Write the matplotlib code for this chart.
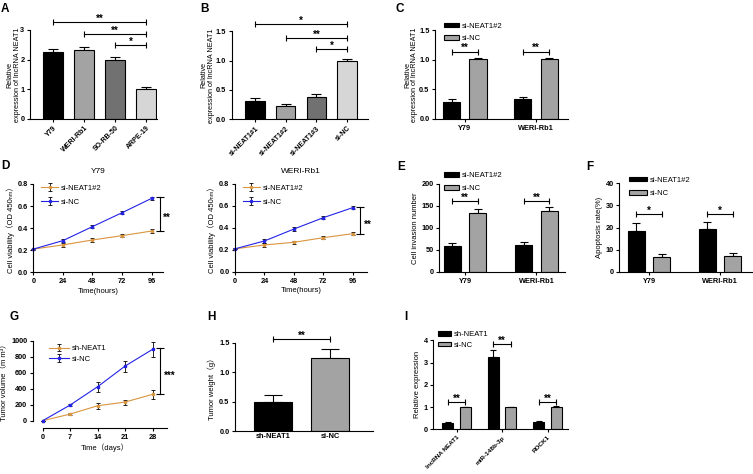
import matplotlib
matplotlib.use("Agg")
import matplotlib.pyplot as plt
import numpy as np

plt.rcParams['font.family'] = ['Liberation Sans', 'DejaVu Sans', 'Noto Sans CJK SC']
plt.rcParams['font.weight'] = 'bold'
plt.rcParams['axes.linewidth'] = 0.8

W, H = 753, 474

# A: NEAT1 in cell lines
A_labels = ["Y79", "WERI-Rb1", "SO-RB-50", "ARPE-19"]
A_vals = [2.25, 2.32, 1.98, 1.01]
A_err = [0.12, 0.12, 0.10, 0.06]

# B: knockdown efficiency
B_labels = ["si-NEAT1#1", "si-NEAT1#2", "si-NEAT1#3", "si-NC"]
B_vals = [0.32, 0.22, 0.38, 1.00]
B_err = [0.04, 0.035, 0.045, 0.02]

# C: NEAT1 after knockdown per cell line
cell_lines = ["Y79", "WERI-Rb1"]
C_si = [0.29, 0.33]
C_si_err = [0.04, 0.05]
C_nc = [1.02, 1.01]
C_nc_err = [0.02, 0.03]

# D: CCK-8 viability
hours = [0, 24, 48, 72, 96]
D_y79_si = [0.21, 0.248, 0.293, 0.332, 0.374]
D_y79_nc = [0.21, 0.287, 0.414, 0.540, 0.670]
D_weri_si = [0.21, 0.245, 0.269, 0.311, 0.347]
D_weri_nc = [0.21, 0.281, 0.389, 0.492, 0.583]
D_err = [0.005, 0.015, 0.015, 0.015, 0.015]

# E: invasion
E_si = [59, 62]
E_si_err = [6, 7]
E_nc = [134, 139]
E_nc_err = [9, 9]

# F: apoptosis
F_si = [18.5, 19.2]
F_si_err = [3.5, 3.5]
F_nc = [6.6, 7.1]
F_nc_err = [1.3, 1.3]

# G: tumor volume
days = [0, 7, 14, 21, 28]
G_sh = [0, 83, 187, 233, 329]
G_sh_err = [0, 10, 37, 31, 56]
G_nc = [0, 196, 425, 683, 892]
G_nc_err = [0, 10, 60, 69, 98]

# H: tumor weight
H_labels = ["sh-NEAT1", "si-NC"]
H_vals = [0.50, 1.24]
H_err = [0.12, 0.15]

# I: expression in tumors
I_labels = ["lncRNA NEAT1", "miR-148b-3p", "ROCK1"]
I_sh = [0.27, 3.24, 0.34]
I_sh_err = [0.04, 0.33, 0.05]
I_nc = [0.99, 0.99, 1.02]
I_nc_err = [0.03, 0.03, 0.04]

ORANGE = "#d9953f"
BLUE = "#2323e6"
GRAY = "#a3a3a3"

fig = plt.figure(figsize=(W / 100, H / 100), dpi=100)


def px_axes(left, right, top, bottom):
    return fig.add_axes([left / W, 1 - bottom / H, (right - left) / W, (bottom - top) / H])


def prism(ax):
    for s in ("top", "right"):
        ax.spines[s].set_visible(False)
    ax.tick_params(direction="out", length=2.5, width=0.8, labelsize=5.3, pad=1.5)


def bars(ax, x, vals, errs, width, colors, cap):
    ax.bar(x, vals, width, color=colors, edgecolor="black", linewidth=0.8, zorder=2)
    ax.errorbar(x, vals, yerr=[np.zeros(len(vals)), errs], fmt="none", ecolor="black",
                elinewidth=0.8, capsize=cap, capthick=0.8, zorder=1)


def pair_bars(ax, x, off, w, a, a_err, b, b_err, labels, cap):
    ax.bar(x - off, a, w, color="black", edgecolor="black", lw=0.8, label=labels[0], zorder=2)
    ax.bar(x + off, b, w, color=GRAY, edgecolor="black", lw=0.8, label=labels[1], zorder=2)
    zero = np.zeros(len(x))
    ax.errorbar(x - off, a, yerr=[zero, a_err], fmt="none", ecolor="black", elinewidth=0.8,
                capsize=cap, capthick=0.8, zorder=1)
    ax.errorbar(x + off, b, yerr=[zero, b_err], fmt="none", ecolor="black", elinewidth=0.8,
                capsize=cap, capthick=0.8, zorder=1)


def sig_h(ax, x1, x2, y, text):
    ax.plot([x1, x2], [y, y], color="black", lw=0.8, marker="|", ms=5, mew=0.8, clip_on=False)
    ax.annotate(text, ((x1 + x2) / 2, y), xytext=(0, 0.2), textcoords="offset points",
                ha="center", va="baseline", fontsize=7, annotation_clip=False)


def sig_v(ax, x, y1, y2, text):
    ax.plot([x, x], [y1, y2], color="black", lw=0.8, marker="_", ms=6, mew=0.8, clip_on=False)
    ax.annotate(text, (x, (y1 + y2) / 2), xytext=(2.5, -3), textcoords="offset points",
                ha="left", va="center", fontsize=7, annotation_clip=False)


def legend_at(ax, x_px, y_px, spacing=0.5, hl=2.0):
    ax.legend(loc="upper left", bbox_to_anchor=(x_px / W, 1 - y_px / H),
              bbox_transform=fig.transFigure, frameon=False, borderpad=0, borderaxespad=0,
              prop={"size": 5.5, "weight": "normal"}, labelspacing=spacing,
              handlelength=hl, handleheight=0.6, handletextpad=0.4)


def letter(x_px, y_px, s):
    fig.text(x_px / W, 1 - y_px / H, s, fontsize=8.5, ha="left", va="top")


REL = "Relative\nexpression of lncRNA NEAT1"

# ---- A
ax = px_axes(30, 157, 30, 119)
prism(ax)
x = np.arange(len(A_labels))
bars(ax, x, A_vals, A_err, 0.65, ["black", "#a3a3a3", "#717171", "#d6d6d6"], 3.5)
ax.set_xlim(-0.75, 3.35); ax.set_ylim(0, 3); ax.set_yticks([0, 1, 2, 3])
ax.set_xticks(x)
ax.set_xticklabels(A_labels, rotation=45, ha="right", rotation_mode="anchor", fontsize=5)
sig_h(ax, 0, 3, 3.28, "**"); sig_h(ax, 1, 3, 2.86, "**"); sig_h(ax, 2, 3, 2.49, "*")
ax.set_ylabel(REL, fontsize=5.2, labelpad=-0.5, linespacing=1.1)

# ---- B
ax = px_axes(231.7, 368, 31.3, 119.3)
prism(ax)
x = np.arange(len(B_labels))
bars(ax, x, B_vals, B_err, 0.63, ["black", "#a3a3a3", "#717171", "#d6d6d6"], 3.5)
ax.set_xlim(-0.76, 3.68); ax.set_ylim(0, 1.5); ax.set_yticks([0, 0.5, 1.0, 1.5])
ax.set_yticklabels(["0.0", "0.5", "1.0", "1.5"])
ax.set_xticks(x)
ax.set_xticklabels(B_labels, rotation=45, ha="right", rotation_mode="anchor", fontsize=5)
sig_h(ax, 0, 3, 1.62, "*"); sig_h(ax, 1, 3, 1.38, "**"); sig_h(ax, 2, 3, 1.19, "*")
ax.set_ylabel(REL, fontsize=5.2, labelpad=0.5, linespacing=1.1)

# ---- C
ax = px_axes(435, 568, 30.3, 119)
prism(ax)
x = np.arange(len(cell_lines))
pair_bars(ax, x, 0.185, 0.24, C_si, C_si_err, C_nc, C_nc_err, ["si-NEAT1#2", "si-NC"], 3.2)
ax.set_xlim(-0.42, 1.45); ax.set_ylim(0, 1.5); ax.set_yticks([0, 0.5, 1.0, 1.5])
ax.set_yticklabels(["0.0", "0.5", "1.0", "1.5"])
ax.set_xticks(x); ax.set_xticklabels(cell_lines)
for i in x:
    sig_h(ax, i - 0.185, i + 0.185, 1.14, "**")
ax.set_ylabel(REL, fontsize=5.2, labelpad=0.5, linespacing=1.1)
legend_at(ax, 444, 22.5, spacing=0.75, hl=1.9)

# ---- D (two line panels)
for (l, r, top, bot, xmax, title, si, nc, bx, b1, b2) in [
        (33.3, 163, 184, 272.3, 105.2, "Y79", D_y79_si, D_y79_nc, 102.7, 0.374, 0.685),
        (235, 366.7, 183.7, 272, 107.4, "WERI-Rb1", D_weri_si, D_weri_nc, 102.0, 0.347, 0.586)]:
    ax = px_axes(l, r, top, bot)
    prism(ax)
    ax.errorbar(hours, si, yerr=D_err, color=ORANGE, lw=0.8, marker="o", ms=1.6, ecolor="black",
                elinewidth=0.6, capsize=1.2, capthick=0.6, label="si-NEAT1#2", clip_on=False)
    ax.errorbar(hours, nc, yerr=D_err, color=BLUE, lw=0.8, marker="o", ms=1.6, ecolor="black",
                elinewidth=0.6, capsize=1.2, capthick=0.6, label="si-NC", clip_on=False)
    ax.set_xlim(0, xmax); ax.set_ylim(0, 0.8)
    ax.set_xticks(hours); ax.set_yticks([0, 0.2, 0.4, 0.6, 0.8])
    ax.set_yticklabels(["0.0", "0.2", "0.4", "0.6", "0.8"])
    sig_v(ax, bx, b1, b2, "**")
    ax.set_title(title, fontsize=6, pad=8)
    ax.set_xlabel("Time(hours)", fontsize=5.5, labelpad=2)
    ax.set_ylabel("Cell viability（OD 450ₙₘ）", fontsize=5.5, labelpad=2)
    legend_at(ax, l + 8, 184.5, spacing=0.9, hl=2.2)

# ---- E
ax = px_axes(439.3, 565, 183.7, 272)
prism(ax)
x = np.arange(len(cell_lines))
pair_bars(ax, x, 0.18, 0.24, E_si, E_si_err, E_nc, E_nc_err, ["si-NEAT1#2", "si-NC"], 3.2)
ax.set_xlim(-0.36, 1.4); ax.set_ylim(0, 200); ax.set_yticks([0, 50, 100, 150, 200])
ax.set_xticks(x); ax.set_xticklabels(cell_lines)
for i in x:
    sig_h(ax, i - 0.18, i + 0.18, 160.8, "**")
ax.set_ylabel("Cell invasion number", fontsize=5.5, labelpad=2)
legend_at(ax, 444, 172, spacing=0.75, hl=1.9)

# ---- F
ax = px_axes(619.3, 751.7, 183.3, 272)
prism(ax)
pair_bars(ax, x, 0.18, 0.24, F_si, F_si_err, F_nc, F_nc_err, ["si-NEAT1#2", "si-NC"], 3.2)
ax.set_xlim(-0.42, 1.45); ax.set_ylim(0, 40); ax.set_yticks([0, 10, 20, 30, 40])
ax.set_xticks(x); ax.set_xticklabels(cell_lines)
for i in x:
    sig_h(ax, i - 0.18, i + 0.18, 26, "*")
ax.set_ylabel("Apoptosis rate(%)", fontsize=5.5, labelpad=2)
legend_at(ax, 629, 176.5, spacing=0.8, hl=2.3)

# ---- G
ax = px_axes(42.7, 166.7, 340.7, 420.7)
prism(ax)
ax.spines["left"].set_position(("outward", 7.2))
ax.spines["bottom"].set_position(("outward", 5.5))
ax.errorbar(days, G_sh, yerr=G_sh_err, color=ORANGE, lw=0.8, marker="s", ms=2, ecolor="black",
            elinewidth=0.6, capsize=1.5, capthick=0.6, label="sh-NEAT1", clip_on=False)
ax.errorbar(days, G_nc, yerr=G_nc_err, color=BLUE, lw=0.8, marker="s", ms=2, ecolor="black",
            elinewidth=0.6, capsize=1.5, capthick=0.6, label="si-NC", clip_on=False)
ax.set_xlim(0, 31.6); ax.set_ylim(0, 1000)
ax.set_xticks(days); ax.set_yticks([0, 200, 400, 600, 800, 1000])
sig_v(ax, 29.9, 329, 904, "***")
ax.set_xlabel("Time（days）", fontsize=5.5, labelpad=2)
ax.set_ylabel("Tumor volume（m m³）", fontsize=5.5, labelpad=2)
legend_at(ax, 49, 345, spacing=0.45, hl=2.6)

# ---- H
ax = px_axes(235, 373, 342.7, 431)
prism(ax)
x = np.arange(len(H_labels))
bars(ax, x, H_vals, H_err, 0.67, ["black", GRAY], 6.5)
ax.set_xlim(-0.675, 1.76); ax.set_ylim(0, 1.5); ax.set_yticks([0, 0.5, 1.0, 1.5])
ax.set_yticklabels(["0.0", "0.5", "1.0", "1.5"])
ax.set_xticks(x); ax.set_xticklabels(H_labels)
ax.tick_params(axis="x", length=0)
sig_h(ax, 0, 1, 1.556, "**")
ax.set_ylabel("Tumor weight（g）", fontsize=5.5, labelpad=2)

# ---- I
ax = px_axes(433.3, 568, 340.3, 429.3)
prism(ax)
x = np.arange(len(I_labels))
pair_bars(ax, x, 0.19, 0.24, I_sh, I_sh_err, I_nc, I_nc_err, ["sh-NEAT1", "si-NC"], 2.3)
ax.set_xlim(-0.51, 2.45); ax.set_ylim(0, 4); ax.set_yticks([0, 1, 2, 3, 4])
ax.set_xticks(x)
ax.set_xticklabels(I_labels, rotation=45, ha="right", rotation_mode="anchor", fontsize=4.6)
for i, yb in zip(x, [1.21, 3.82, 1.21]):
    sig_h(ax, i - 0.19, i + 0.19, yb, "**")
ax.set_ylabel("Relative expression", fontsize=5.5, labelpad=2)
legend_at(ax, 438, 331, spacing=0.45, hl=1.7)

for lx, ly, s in [(1, 3, "A"), (200, 3, "B"), (396, 3, "C"), (1, 160, "D"), (397, 161, "E"),
                  (586, 161, "F"), (10, 311, "G"), (207, 311, "H"), (404, 311, "I")]:
    letter(lx, ly, s)

fig.savefig("out.png", dpi=100)
